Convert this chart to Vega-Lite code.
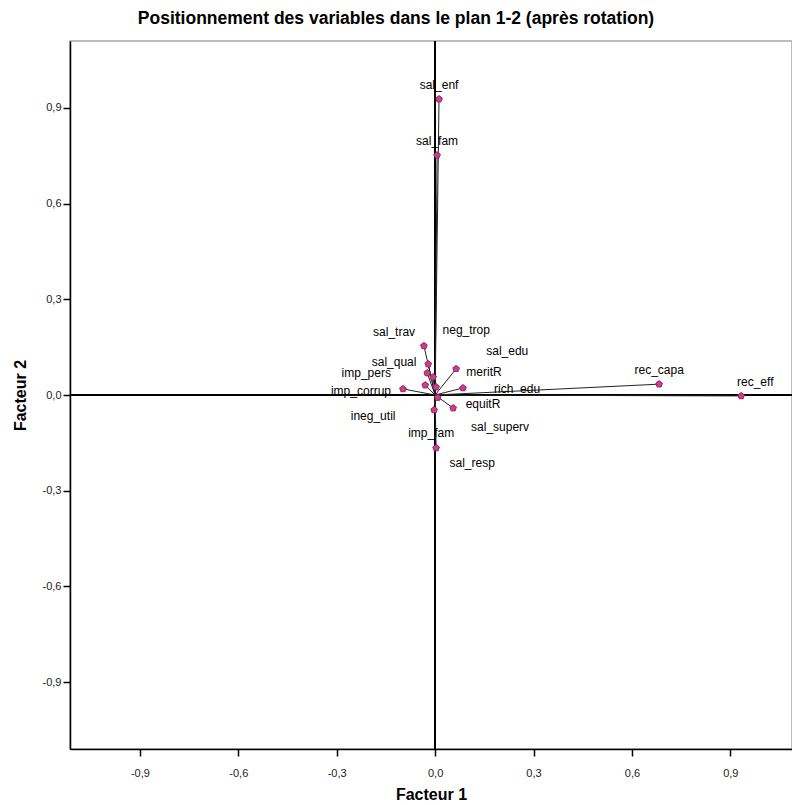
{
  "$schema": "https://vega.github.io/schema/vega-lite/v6.json",
  "autosize": "none",
  "width": 722,
  "height": 708,
  "padding": {"left": 70, "top": 41, "right": 0, "bottom": 56},
  "background": "white",
  "title": {
    "text": "Positionnement des variables dans le plan 1-2 (après rotation)",
    "font": "Liberation Sans",
    "fontSize": 17.5,
    "fontWeight": "bold",
    "color": "#000000",
    "anchor": "middle",
    "dx": -35,
    "offset": 13
  },
  "config": {
    "view": {"stroke": "#a8a8a8", "strokeWidth": 1.5},
    "axis": {
      "grid": false,
      "domainColor": "#000000",
      "domainWidth": 1.5,
      "tickColor": "#000000",
      "tickWidth": 1.5,
      "tickSize": 7,
      "labelFont": "Liberation Sans",
      "labelFontSize": 11,
      "labelColor": "#222222",
      "titleFont": "Liberation Sans",
      "titleFontSize": 16,
      "titleFontWeight": "bold",
      "titleColor": "#000000"
    }
  },
  "data": {
    "values": [
      {"var": "sal_enf", "f1": 0.012, "f2": 0.928, "lx": 0.012, "ly": 0.972},
      {"var": "sal_fam", "f1": 0.006, "f2": 0.752, "lx": 0.006, "ly": 0.796},
      {"var": "rec_capa", "f1": 0.683, "f2": 0.034, "lx": 0.683, "ly": 0.078},
      {"var": "rec_eff", "f1": 0.933, "f2": -0.003, "lx": 0.976, "ly": 0.041},
      {"var": "sal_trav", "f1": -0.034, "f2": 0.154, "lx": -0.125, "ly": 0.198},
      {"var": "neg_trop", "f1": -0.006, "f2": 0.056, "lx": 0.095, "ly": 0.204},
      {"var": "sal_edu", "f1": 0.003, "f2": 0.025, "lx": 0.22, "ly": 0.138},
      {"var": "sal_qual", "f1": -0.021, "f2": 0.097, "lx": -0.125, "ly": 0.103},
      {"var": "imp_pers", "f1": -0.024, "f2": 0.069, "lx": -0.21, "ly": 0.069},
      {"var": "meritR", "f1": 0.064, "f2": 0.082, "lx": 0.149, "ly": 0.072},
      {"var": "rich_edu", "f1": 0.085, "f2": 0.022, "lx": 0.25, "ly": 0.019},
      {"var": "imp_corrup", "f1": -0.098, "f2": 0.019, "lx": -0.226, "ly": 0.013},
      {"var": "equitR", "f1": 0.055, "f2": -0.041, "lx": 0.146, "ly": -0.028},
      {"var": "ineg_util", "f1": -0.03, "f2": 0.031, "lx": -0.189, "ly": -0.066},
      {"var": "sal_superv", "f1": 0.008, "f2": -0.008, "lx": 0.198, "ly": -0.1},
      {"var": "imp_fam", "f1": -0.003, "f2": -0.047, "lx": -0.012, "ly": -0.119},
      {"var": "sal_resp", "f1": 0.003, "f2": -0.166, "lx": 0.113, "ly": -0.213}
    ]
  },
  "layer": [
    {
      "mark": {"type": "point", "shape": "M0,-1L0.951,-0.309L0.588,0.809L-0.588,0.809L-0.951,-0.309Z", "filled": true, "size": 45, "color": "#c8418b", "stroke": "#9a2a68", "strokeWidth": 0.8, "opacity": 1},
      "encoding": {
        "x": {"field": "f1", "type": "quantitative", "scale": {"domain": [-1.113, 1.088], "nice": false, "zero": false},
          "axis": {"values": [-0.9, -0.6, -0.3, 0, 0.3, 0.6, 0.9], "labelExpr": "replace(replace(format(datum.value, '.1f'), '.', ','), '\u2212', '-')", "title": "Facteur 1", "labelPadding": 11, "titlePadding": 8}},
        "y": {"field": "f2", "type": "quantitative", "scale": {"domain": [-1.11, 1.11], "nice": false, "zero": false},
          "axis": {"values": [-0.9, -0.6, -0.3, 0, 0.3, 0.6, 0.9], "labelExpr": "replace(replace(format(datum.value, '.1f'), '.', ','), '\u2212', '-')", "title": "Facteur 2", "labelPadding": 2, "titlePadding": 14}}
      }
    },
    {
      "mark": {"type": "rule", "color": "#000000", "strokeWidth": 1.2},
      "encoding": {
        "x": {"datum": 0, "type": "quantitative"}
      }
    },
    {
      "mark": {"type": "rule", "color": "#000000", "strokeWidth": 1.2},
      "encoding": {
        "y": {"datum": 0, "type": "quantitative"}
      }
    },
    {
      "mark": {"type": "rule", "color": "#222222", "strokeWidth": 1},
      "encoding": {
        "x": {"field": "f1", "type": "quantitative"},
        "y": {"field": "f2", "type": "quantitative"},
        "x2": {"datum": 0},
        "y2": {"datum": 0}
      }
    },
    {
      "mark": {"type": "point", "shape": "M0,-1L0.951,-0.309L0.588,0.809L-0.588,0.809L-0.951,-0.309Z", "filled": true, "size": 45, "color": "#c8418b", "stroke": "#9a2a68", "strokeWidth": 0.8, "opacity": 1},
      "encoding": {
        "x": {"field": "f1", "type": "quantitative"},
        "y": {"field": "f2", "type": "quantitative"}
      }
    },
    {
      "mark": {"type": "text", "font": "Liberation Sans", "fontSize": 12, "color": "#000000", "align": "center", "baseline": "middle"},
      "encoding": {
        "x": {"field": "lx", "type": "quantitative"},
        "y": {"field": "ly", "type": "quantitative"},
        "text": {"field": "var"}
      }
    }
  ]
}
